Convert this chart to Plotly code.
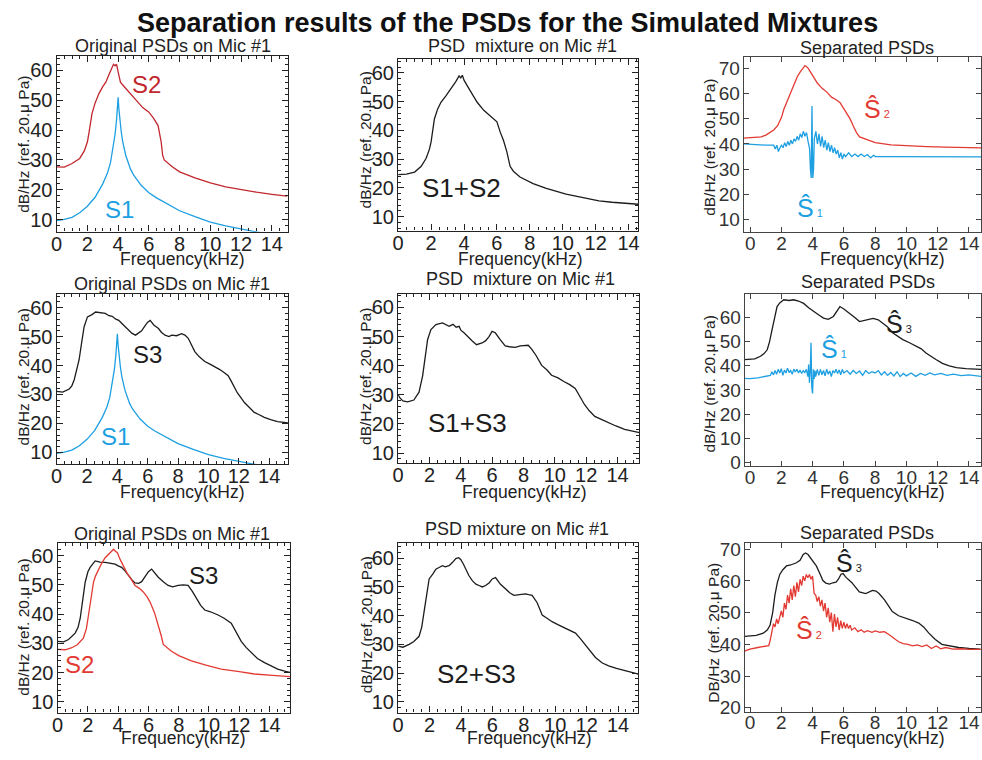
import plotly.graph_objects as go

W, H = 982, 760

# ---------------- data ----------------
# Row 1, col 1 : original S2 and S1
f_s2_r1 = [0, 0.5, 1.0, 1.5, 1.8, 2.0, 2.1, 2.3, 2.5, 2.75, 3.0, 3.2, 3.4, 3.6, 3.7, 3.8, 3.9, 4.0, 4.15, 4.4,
           4.9, 5.3, 5.6, 6.0, 6.3, 6.6, 6.8, 6.9, 7.0, 7.5, 8.0, 9.0, 10.0, 11.0, 12.0, 13.0, 14.0, 15.0]
v_s2_r1 = [27.7, 27.6, 28.8, 30.5, 33.0, 36.0, 39.0, 45.5, 49.0, 52.2, 54.5, 56.0, 58.5, 61.0, 62.0, 61.5, 62.0,
           59.5, 56.0, 54.5, 51.5, 49.3, 47.5, 46.0, 44.0, 41.5, 36.0, 31.5, 30.0, 27.8, 26.0, 24.0, 22.3, 21.0,
           20.0, 19.2, 18.5, 17.9]

f_s1 = [0, 0.5, 1.0, 1.5, 2.0, 2.5, 3.0, 3.3, 3.5, 3.7, 3.8, 3.9, 3.95, 4.0, 4.05, 4.1, 4.2, 4.3, 4.5, 4.8,
        5.0, 5.5, 6.0, 6.5, 7.0, 8.0, 9.0, 10.0, 11.0, 12.0, 13.0, 14.0, 15.0]
v_s1 = [9.7, 10.1, 10.8, 12.3, 14.5, 17.5, 22.0, 25.5, 29.0, 35.0, 38.5, 43.5, 47.0, 51.0, 47.0, 43.5, 39.5,
        36.0, 31.5, 27.0, 25.0, 21.5, 19.0, 17.3, 15.8, 13.0, 11.0, 9.2, 7.9, 6.8, 5.8, 4.9, 4.1]

# Row 1, col 2 : mixture S1+S2
f_mix12 = [0, 0.5, 1.0, 1.4, 1.7, 1.9, 2.0, 2.2, 2.4, 2.6, 2.9, 3.2, 3.5, 3.7, 3.8, 3.9, 4.0, 4.2, 4.5, 4.8,
           5.2, 5.5, 5.8, 6.0, 6.2, 6.4, 6.6, 6.8, 7.0, 7.4, 8.2, 9.0, 10.2, 11.0, 12.2, 13.0, 14.0, 14.6]
v_mix12 = [24.6, 24.8, 25.5, 27.5, 30.3, 33.5, 36.0, 44.0, 47.5, 49.8, 52.0, 54.4, 57.0, 59.0, 58.3, 59.2, 57.5,
           55.5, 52.5, 49.8, 47.0, 45.5, 44.0, 43.0, 39.4, 36.5, 32.6, 27.5, 25.8, 23.8, 21.5, 19.8, 17.8, 16.8,
           15.5, 15.0, 14.6, 14.3]

# Row 1, col 3 : separated S2-hat and S1-hat
f_s2hat_r1 = [-0.4, 0.0, 0.7, 1.0, 1.3, 1.5, 1.75, 2.0, 2.15, 2.4, 2.6, 2.8, 3.0, 3.2, 3.4, 3.5, 3.6, 3.7, 4.0,
              4.3, 4.6, 4.9, 5.2, 5.5, 5.75, 6.0, 6.2, 6.4, 6.6, 6.8, 7.0, 7.5, 8.0, 9.0, 10.0, 11.3, 12.5,
              13.5, 14.8]
v_s2hat_r1 = [42.3, 42.4, 42.8, 43.5, 44.6, 45.5, 47.2, 50.5, 53.7, 57.5, 60.8, 63.5, 66.5, 68.5, 70.3, 71.0,
              70.5, 70.0, 67.0, 64.0, 62.0, 60.5, 58.5, 57.5, 56.3, 54.0, 52.0, 49.8, 47.0, 44.5, 42.8, 41.5,
              40.5, 39.6, 39.2, 38.9, 38.7, 38.6, 38.4]

f_s1hat_r1 = [-0.4, 0.5, 1.0, 1.5, 1.6, 1.7, 1.8, 1.9, 2.0, 2.1, 2.2, 2.3, 2.4, 2.5, 2.6, 2.7, 2.8, 2.9, 3.0,
              3.1, 3.2, 3.3, 3.4, 3.5, 3.6, 3.7, 3.8, 3.85, 3.9, 3.95, 4.0, 4.05, 4.1, 4.2, 4.3, 4.4, 4.5,
              4.6, 4.7, 4.8, 4.9, 5.0, 5.1, 5.2, 5.3, 5.4, 5.5, 5.6, 5.7, 5.8, 5.9, 6.0, 6.1, 6.3, 6.5, 6.7,
              6.9, 7.1, 7.3, 7.5, 7.7, 7.9, 8.0, 9.0, 10.0, 11.0, 12.0, 13.0, 14.0, 14.8]
v_s1hat_r1 = [40.0, 39.6, 39.5, 39.5, 38.0, 39.5, 37.0, 38.5, 39.5, 38.5, 40.5, 39.0, 41.0, 39.5, 41.5, 40.0,
              42.0, 41.0, 43.0, 41.5, 44.0, 42.5, 45.0, 43.0, 44.5, 41.0, 38.0, 30.0, 26.5, 55.0, 26.5, 30.0,
              42.0, 45.0, 40.0, 44.0, 39.0, 43.0, 38.5, 41.5, 37.5, 40.5, 37.0, 39.5, 36.5, 38.5, 36.0, 37.5,
              34.5, 36.5, 34.0, 36.0, 35.0, 36.5, 35.0, 36.0, 35.0, 36.0, 35.0, 35.8, 34.5, 35.5, 35.0, 35.0,
              35.0, 35.0, 35.0, 35.0, 35.0, 34.9]

# Row 2, col 1 : original S3 (S1 reused from above)
f_s3_r2 = [0, 0.4, 0.83, 1.0, 1.16, 1.3, 1.48, 1.65, 1.81, 2.03, 2.3, 2.57, 2.9, 3.2, 3.45, 3.66, 3.9, 4.09,
           4.3, 4.53, 4.75, 4.97, 5.2, 5.4, 5.6, 5.84, 6.0, 6.16, 6.4, 6.71, 6.9, 7.14, 7.4, 7.58, 7.9, 8.23,
           8.45, 8.67, 8.9, 9.1, 9.4, 9.76, 10.1, 10.41, 10.75, 11.07, 11.3, 11.5, 11.7, 11.9, 12.15, 12.37,
           12.7, 13.02, 13.35, 13.68, 14.1, 14.55, 15.24]
v_s3_r2 = [31.1, 30.8, 31.9, 33.0, 35.1, 38.0, 42.0, 48.0, 53.4, 56.8, 57.5, 58.5, 58.3, 58.0, 57.2, 57.0, 56.0,
           55.6, 54.5, 53.4, 52.0, 51.1, 50.5, 51.3, 52.0, 53.9, 55.0, 55.6, 54.0, 52.8, 51.5, 50.5, 50.0, 50.5,
           50.3, 51.0, 50.5, 49.4, 47.0, 44.8, 43.0, 41.4, 40.5, 39.7, 38.6, 37.4, 36.5, 34.6, 32.5, 30.6, 28.8,
           27.2, 25.5, 23.8, 23.0, 22.1, 21.3, 20.6, 20.2]

# Row 2, col 2 : mixture S1+S3
f_mix13 = [0.0, 0.1, 0.3, 0.6, 1.0, 1.33, 1.56, 1.75, 1.88, 2.09, 2.41, 2.83, 3.05, 3.25, 3.5, 3.7, 3.89, 4.0,
           4.2, 4.45, 4.73, 5.0, 5.15, 5.35, 5.57, 5.8, 5.99, 6.2, 6.5, 6.83, 7.1, 7.47, 7.8, 8.1, 8.3, 8.52,
           8.8, 9.16, 9.5, 9.79, 10.2, 10.6, 10.95, 11.3, 11.6, 11.9, 12.2, 12.55, 13.0, 13.4, 13.9, 14.45,
           15.0, 15.4]
v_mix13 = [30.0, 29.0, 27.9, 27.6, 28.2, 30.9, 36.5, 43.0, 49.0, 52.4, 54.1, 54.7, 54.2, 53.5, 54.2, 53.2, 53.5,
           52.2, 51.3, 49.8, 48.5, 47.2, 47.4, 47.8, 48.5, 50.0, 51.8, 51.3, 49.0, 46.8, 46.5, 46.3, 46.8, 46.8,
           47.0, 45.7, 43.5, 40.1, 38.5, 36.7, 35.8, 34.5, 33.5, 32.2, 29.5, 26.6, 24.5, 22.6, 21.5, 20.4, 19.3,
           18.1, 17.4, 17.0]

# Row 2, col 3 : separated S3-hat and S1-hat
f_s3hat_r2 = [-0.35, 0.3, 0.67, 0.9, 1.1, 1.25, 1.41, 1.6, 1.73, 1.9, 2.16, 2.5, 2.79, 3.1, 3.43, 3.75, 4.06,
              4.4, 4.7, 5.0, 5.33, 5.55, 5.75, 6.0, 6.39, 6.7, 7.0, 7.4, 7.87, 8.2, 8.5, 8.8, 9.14, 9.45, 9.77,
              10.2, 10.62, 10.95, 11.25, 11.6, 11.89, 12.3, 12.74, 13.2, 13.8, 14.77]
v_s3hat_r2 = [42.5, 42.8, 43.9, 45.0, 46.6, 50.0, 54.9, 60.0, 64.5, 66.0, 67.3, 67.0, 67.3, 66.8, 65.8, 64.0,
              62.4, 61.0, 59.7, 59.2, 60.4, 62.5, 64.5, 63.5, 61.7, 60.0, 58.3, 59.0, 59.6, 59.0, 57.6, 56.0,
              53.5, 52.0, 50.8, 49.5, 48.1, 47.0, 45.3, 44.0, 42.6, 41.0, 39.9, 39.2, 38.8, 38.5]

f_s1hat_r2 = [-0.4, 0.0, 0.5, 1.0, 1.3, 1.4, 1.5, 1.6, 1.7, 1.8, 1.9, 2.0, 2.1, 2.2, 2.3, 2.4, 2.5, 2.6, 2.7,
              2.8, 2.9, 3.0, 3.1, 3.2, 3.3, 3.4, 3.5, 3.6, 3.7, 3.75, 3.8, 3.85, 3.9, 3.95, 4.0, 4.05, 4.1,
              4.15, 4.2, 4.3, 4.4, 4.5, 4.6, 4.7, 4.8, 4.9, 5.0, 5.1, 5.2, 5.3, 5.4, 5.5, 5.6, 5.7, 5.8, 5.9,
              6.0, 6.2, 6.4, 6.6, 6.8, 7.0, 7.2, 7.4, 7.6, 7.8, 8.0, 8.2, 8.4, 8.6, 8.8, 9.0, 9.2, 9.4, 9.6,
              9.8, 10.0, 10.3, 10.6, 10.9, 11.2, 11.5, 11.8, 12.2, 12.6, 13.0, 13.5, 14.0, 14.5, 14.8]
v_s1hat_r2 = [34.8, 34.7, 35.0, 35.5, 36.0, 37.5, 36.2, 38.0, 36.5, 38.5, 37.0, 38.8, 36.0, 38.2, 37.0, 39.0,
              37.2, 38.0, 36.5, 38.6, 37.4, 38.5, 37.0, 38.2, 36.8, 38.0, 37.2, 38.5, 35.5, 40.5, 33.0, 37.5,
              49.5, 31.0, 28.5, 38.5, 34.5, 38.0, 35.5, 38.5, 36.0, 38.5, 36.2, 38.0, 35.8, 38.6, 36.5, 37.8,
              35.5, 38.0, 37.0, 38.5, 36.8, 38.2, 36.2, 38.5, 37.0, 38.0, 36.5, 38.0, 36.8, 37.8, 36.0, 38.0,
              36.8, 37.5, 37.0, 38.0, 36.2, 37.5, 36.0, 37.2, 35.8, 37.5, 35.5, 36.8, 35.8, 37.0, 35.6, 36.8,
              36.0, 37.0, 36.2, 36.8, 36.0, 36.5, 35.9, 36.2, 35.8, 35.6]

# Row 3, col 1 : original S3 and S2
f_s3_r3 = [0, 0.4, 0.72, 1.0, 1.16, 1.35, 1.49, 1.65, 1.82, 2.0, 2.15, 2.48, 2.8, 3.14, 3.5, 3.8, 4.0, 4.23,
           4.45, 4.67, 4.9, 5.11, 5.35, 5.55, 5.8, 6.0, 6.21, 6.45, 6.65, 7.0, 7.3, 7.6, 7.96, 8.3, 8.62, 8.9,
           9.17, 9.45, 9.72, 10.1, 10.6, 11.0, 11.47, 11.8, 12.13, 12.45, 12.79, 13.2, 13.67, 14.1, 14.54,
           15.0, 15.38]
v_s3_r3 = [30.7, 30.5, 31.3, 32.5, 33.5, 35.5, 38.5, 44.5, 50.9, 54.5, 56.0, 58.2, 57.8, 57.7, 57.3, 57.1, 56.5,
           56.0, 54.8, 53.2, 51.8, 50.7, 50.5, 51.1, 53.0, 54.5, 55.4, 54.0, 52.6, 51.0, 49.8, 49.3, 49.8, 50.0,
           49.8, 47.8, 45.3, 43.0, 41.4, 40.8, 39.7, 38.6, 36.9, 34.0, 30.7, 28.6, 26.8, 24.8, 23.4, 22.3, 21.2,
           20.5, 20.0]

f_s2_r3 = [0, 0.5, 0.94, 1.3, 1.7, 1.9, 2.04, 2.2, 2.37, 2.5, 2.7, 2.9, 3.14, 3.4, 3.58, 3.7, 3.8, 3.95, 4.12,
           4.35, 4.56, 4.85, 5.11, 5.4, 5.66, 5.9, 6.1, 6.4, 6.65, 6.85, 6.98, 7.2, 7.52, 8.0, 8.84, 9.8, 10.81,
           12.0, 13.0, 14.2, 15.38]
v_s2_r3 = [27.9, 27.8, 28.5, 29.5, 31.8, 35.0, 39.7, 45.5, 50.9, 53.0, 55.4, 57.3, 59.3, 60.8, 61.6, 62.2, 61.6,
           61.0, 58.8, 56.5, 54.3, 52.0, 49.8, 48.8, 47.6, 46.0, 44.2, 40.5, 36.3, 32.5, 29.6, 28.6, 27.3, 25.8,
           24.0, 22.5, 21.2, 20.3, 19.5, 19.0, 18.6]

# Row 3, col 2 : mixture S2+S3
f_mix23 = [0, 0.3, 0.7, 1.0, 1.33, 1.5, 1.65, 1.8, 1.97, 2.2, 2.4, 2.6, 2.82, 3.0, 3.24, 3.45, 3.67, 3.85, 3.98,
           4.15, 4.3, 4.5, 4.72, 4.95, 5.15, 5.35, 5.57, 5.8, 5.99, 6.2, 6.5, 6.84, 7.1, 7.37, 7.7, 8.1, 8.3,
           8.53, 8.85, 9.17, 9.5, 9.8, 10.2, 10.65, 11.0, 11.29, 11.6, 11.92, 12.25, 12.56, 13.0, 13.4, 13.9,
           14.46, 15.3]
v_mix23 = [29.4, 29.0, 30.0, 31.0, 32.8, 36.0, 41.4, 47.5, 52.8, 54.5, 56.2, 56.8, 57.4, 57.0, 57.4, 58.5, 59.9,
           60.2, 59.6, 58.0, 56.2, 54.0, 52.2, 51.0, 50.5, 50.0, 50.5, 51.5, 52.8, 53.3, 51.0, 49.3, 48.0, 47.1,
           47.3, 47.6, 47.3, 47.1, 44.5, 40.2, 39.0, 37.9, 36.8, 35.6, 34.8, 33.9, 32.0, 29.9, 27.5, 25.4, 23.5,
           22.5, 21.6, 20.8, 19.6]

# Row 3, col 3 : separated S3-hat and S2-hat
f_s3hat_r3 = [-0.35, 0.4, 0.85, 1.1, 1.28, 1.45, 1.59, 1.75, 1.91, 2.1, 2.33, 2.6, 2.97, 3.2, 3.4, 3.55, 3.71,
              3.95, 4.24, 4.45, 4.66, 4.85, 5.08, 5.3, 5.5, 5.65, 5.82, 5.95, 6.14, 6.5, 6.99, 7.4, 7.83, 8.05,
              8.25, 8.6, 9.1, 9.5, 9.94, 10.4, 10.79, 11.1, 11.42, 11.85, 12.27, 12.8, 13.33, 14.0, 14.72]
v_s3hat_r3 = [42.5, 42.8, 43.5, 44.5, 46.0, 50.0, 55.4, 59.5, 62.1, 63.5, 64.7, 65.0, 65.7, 66.5, 68.3, 68.8,
              68.3, 66.8, 64.7, 62.5, 60.1, 59.3, 59.0, 59.4, 59.6, 60.5, 62.1, 62.3, 61.1, 59.5, 56.5, 56.0,
              57.0, 56.8, 56.0, 54.0, 50.3, 49.0, 48.3, 47.5, 46.7, 45.5, 43.6, 41.5, 40.0, 39.4, 39.0, 38.7,
              38.5]

f_s2hat_r3 = [-0.4, 0.0, 0.5, 1.0, 1.2, 1.3, 1.4, 1.5, 1.6, 1.7, 1.8, 1.9, 2.0, 2.1, 2.2, 2.3, 2.4, 2.5, 2.6,
              2.7, 2.8, 2.9, 3.0, 3.1, 3.2, 3.3, 3.4, 3.5, 3.6, 3.7, 3.8, 3.9, 4.0, 4.1, 4.2, 4.3, 4.4, 4.5,
              4.6, 4.7, 4.8, 4.9, 5.0, 5.1, 5.2, 5.3, 5.4, 5.5, 5.6, 5.7, 5.8, 5.9, 6.0, 6.1, 6.2, 6.3, 6.4,
              6.5, 6.7, 6.9, 7.1, 7.3, 7.5, 7.8, 8.0, 8.3, 8.6, 8.9, 9.2, 9.5, 9.8, 10.1, 10.4, 10.7, 11.0,
              11.3, 11.6, 11.9, 12.2, 12.5, 13.0, 13.5, 14.0, 14.5, 14.8]
v_s2hat_r3 = [37.8, 38.5, 39.0, 39.3, 39.6, 41.5, 44.0, 46.5, 45.5, 48.0, 46.5, 49.0, 50.5, 48.5, 53.0, 51.0,
              55.5, 53.0, 57.5, 54.0, 58.5, 55.0, 59.5, 56.5, 60.5, 58.5, 61.5, 60.0, 62.0, 61.0, 62.0, 60.5,
              61.5, 56.0, 55.5, 53.5, 55.0, 52.0, 54.0, 50.5, 53.0, 48.5, 51.5, 47.0, 50.0, 44.0, 49.5, 45.5,
              48.5, 44.5, 47.5, 45.0, 47.0, 45.0, 46.5, 45.0, 46.0, 44.5, 45.2, 44.0, 44.6, 43.8, 44.3, 43.8,
              44.2, 43.8, 44.0, 43.0, 42.0, 40.8, 40.2, 40.0, 39.5, 39.8, 39.3, 39.8, 38.7, 39.5, 38.6, 39.0,
              38.5, 38.6, 38.4, 38.5, 38.4]

x_ticks = [0, 2, 4, 6, 8, 10, 12, 14]

# ---------------- styling ----------------
BLACK = "#1c1c1c"
BLUE = "#1d9fe2"
RED_DARK = "#c1272d"
RED = "#e23a32"
FONT = "Liberation Sans, Arial, sans-serif"


def px_x(p):
    return p / W


def px_y(p):
    return 1 - p / H


# panel geometry (pixel boxes: left, right, top, bottom)
panels = [
    dict(box=(51, 284, 53, 231), xr=[0, 15.05], yr=[6, 64.7], yt=[10, 20, 30, 40, 50, 60], style="fine"),
    dict(box=(395, 637, 56, 230), xr=[0, 14.6], yr=[5.1, 64.8], yt=[10, 20, 30, 40, 50, 60], style="fine"),
    dict(box=(743, 982, 54, 231), xr=[-0.42, 14.77], yr=[5.3, 74.3], yt=[10, 20, 30, 40, 50, 60, 70], style="sep"),
    dict(box=(51, 284, 294, 467), xr=[0, 15.24], yr=[5.9, 64.8], yt=[10, 20, 30, 40, 50, 60], style="fine"),
    dict(box=(395, 638, 294, 466), xr=[0, 15.4], yr=[6.5, 64.7], yt=[10, 20, 30, 40, 50, 60], style="fine"),
    dict(box=(744, 982, 294, 469), xr=[-0.34, 14.77], yr=[-1.6, 69.8], yt=[0, 10, 20, 30, 40, 50, 60], style="sep"),
    dict(box=(52, 286, 547, 719), xr=[0, 15.35], yr=[6.3, 64.3], yt=[10, 20, 30, 40, 50, 60], style="fine"),
    dict(box=(395, 637, 547, 719), xr=[0, 15.3], yr=[6.2, 65.3], yt=[10, 20, 30, 40, 50, 60], style="fine"),
    dict(box=(744, 982, 547, 718), xr=[-0.34, 14.77], yr=[18.8, 71.9], yt=[20, 30, 40, 50, 60, 70], style="sep"),
]

# traces: (panel index, x, y, color)
series = [
    (0, f_s2_r1, v_s2_r1, RED_DARK),
    (0, f_s1, v_s1, BLUE),
    (1, f_mix12, v_mix12, BLACK),
    (2, f_s2hat_r1, v_s2hat_r1, RED),
    (2, f_s1hat_r1, v_s1hat_r1, BLUE),
    (3, f_s3_r2, v_s3_r2, BLACK),
    (3, f_s1, v_s1, BLUE),
    (4, f_mix13, v_mix13, BLACK),
    (5, f_s3hat_r2, v_s3hat_r2, BLACK),
    (5, f_s1hat_r2, v_s1hat_r2, BLUE),
    (6, f_s3_r3, v_s3_r3, BLACK),
    (6, f_s2_r3, v_s2_r3, RED),
    (7, f_mix23, v_mix23, BLACK),
    (8, f_s3hat_r3, v_s3hat_r3, BLACK),
    (8, f_s2hat_r3, v_s2hat_r3, RED),
]

fig = go.Figure()
for pi, xs, ys, col in series:
    n = "" if pi == 0 else str(pi + 1)
    fig.add_trace(go.Scatter(x=xs, y=ys, mode="lines", line=dict(color=col, width=1.3),
                             xaxis="x" + n, yaxis="y" + n, showlegend=False, hoverinfo="skip"))

layout = dict(width=W, height=H, margin=dict(l=0, r=0, t=0, b=0), paper_bgcolor="white",
              plot_bgcolor="white", showlegend=False, font=dict(family=FONT, color="#222"))

for i, p in enumerate(panels):
    n = "" if i == 0 else str(i + 1)
    l, r, t, b = p["box"]
    fine = p["style"] == "fine"
    common = dict(showline=True, mirror="allticks", ticks="inside", showgrid=False, zeroline=False,
                  linecolor="#222" if fine else "#444", linewidth=1.4 if fine else 1.1,
                  tickcolor="#222" if fine else "#444", ticklen=6 if fine else 5, tickwidth=1.1,
                  tickfont=dict(size=20 if fine else 19, color="#222" if fine else "#333", family=FONT),
                  fixedrange=True)
    xa = dict(common, domain=[px_x(l), px_x(r)], range=p["xr"], tickvals=x_ticks,
              anchor="y" + n, ticklabelstandoff=-6)
    ya = dict(common, domain=[px_y(b), px_y(t)], range=p["yr"], tickvals=p["yt"],
              anchor="x" + n, ticklabelstandoff=-1)
    if fine:
        xa["minor"] = dict(ticks="inside", ticklen=3, dtick=0.5, tick0=0, tickcolor="#222")
        ya["minor"] = dict(ticks="inside", ticklen=3, dtick=2, tick0=0, tickcolor="#222")
    layout["xaxis" + n] = xa
    layout["yaxis" + n] = ya

fig.update_layout(**layout)

ann = []


def text(s, x, y, size, color="#222", angle=0, bold=False, xanchor="center"):
    ann.append(dict(text=("<b>%s</b>" % s) if bold else s, x=px_x(x), y=px_y(y), xref="paper", yref="paper",
                    showarrow=False, xanchor=xanchor, yanchor="middle", textangle=angle,
                    font=dict(size=size, color=color, family=FONT)))


text("Separation results of the PSDs for the Simulated Mixtures", 505, 19, 27, color="#111", bold=True)

# panel titles
for (x, y, s) in [(168, 43, "Original PSDs on Mic #1"), (520, 43, "PSD&nbsp; mixture on Mic #1"),
                  (867, 45, "Separated PSDs"),
                  (167, 284, "Original PSDs on Mic #1"), (518, 279, "PSD&nbsp; mixture on Mic #1"),
                  (868, 282, "Separated PSDs"),
                  (167, 538, "Original PSDs on Mic #1"), (515, 533, "PSD mixture on Mic #1"),
                  (867, 537, "Separated PSDs")]:
    text(s, x, y, 18, color="#222")

# x-axis titles
for (x, y) in [(177, 259), (518, 259), (882, 259), (177, 495), (522, 495), (882, 495),
               (178, 745), (527, 745), (882, 745)]:
    text("Frequency(kHz)", x, y, 17.5, color="#222")

# y-axis titles
ylab = "dB/Hz (ref. 20.\u03bc Pa)"
for (x, y, s) in [(18, 142, ylab), (362, 138, ylab), (709, 145, ylab),
                  (18, 378, ylab), (362, 378, ylab), (708, 385, ylab),
                  (18, 632, ylab), (363, 630, ylab), (713, 638, "DB/Hz (ref. 20.\u03bc Pa)")]:
    text(s, x, y, 15.5, color="#222", angle=-90)

# curve labels
text("S2", 142, 82, 24, RED_DARK)
text("S1", 114, 209, 24, BLUE)
text("S1+S2", 459, 187, 26, BLACK)
text("S3", 143, 356, 24, BLACK)
text("S1", 110, 439, 24, BLUE)
text("S1+S3", 465, 425, 26, BLACK)
text("S3", 199, 580, 24, BLACK)
text("S2", 74, 670, 24, RED)
text("S2+S3", 474, 680, 26, BLACK)


def hat(sub, x, y, color):
    # S with circumflex (estimate) and a small subscript
    text("\u015c<span style='font-size:11px'> %s</span>" % sub, x - 8, y - 3, 25, color, xanchor="left")


hat("2", 870, 110, RED)
hat("1", 803, 210, BLUE)
hat("3", 892, 328, BLACK)
hat("1", 827, 353, BLUE)
hat("3", 842, 570, BLACK)
hat("2", 802, 638, RED)

fig.update_layout(annotations=ann)
fig.write_html("out.html")
